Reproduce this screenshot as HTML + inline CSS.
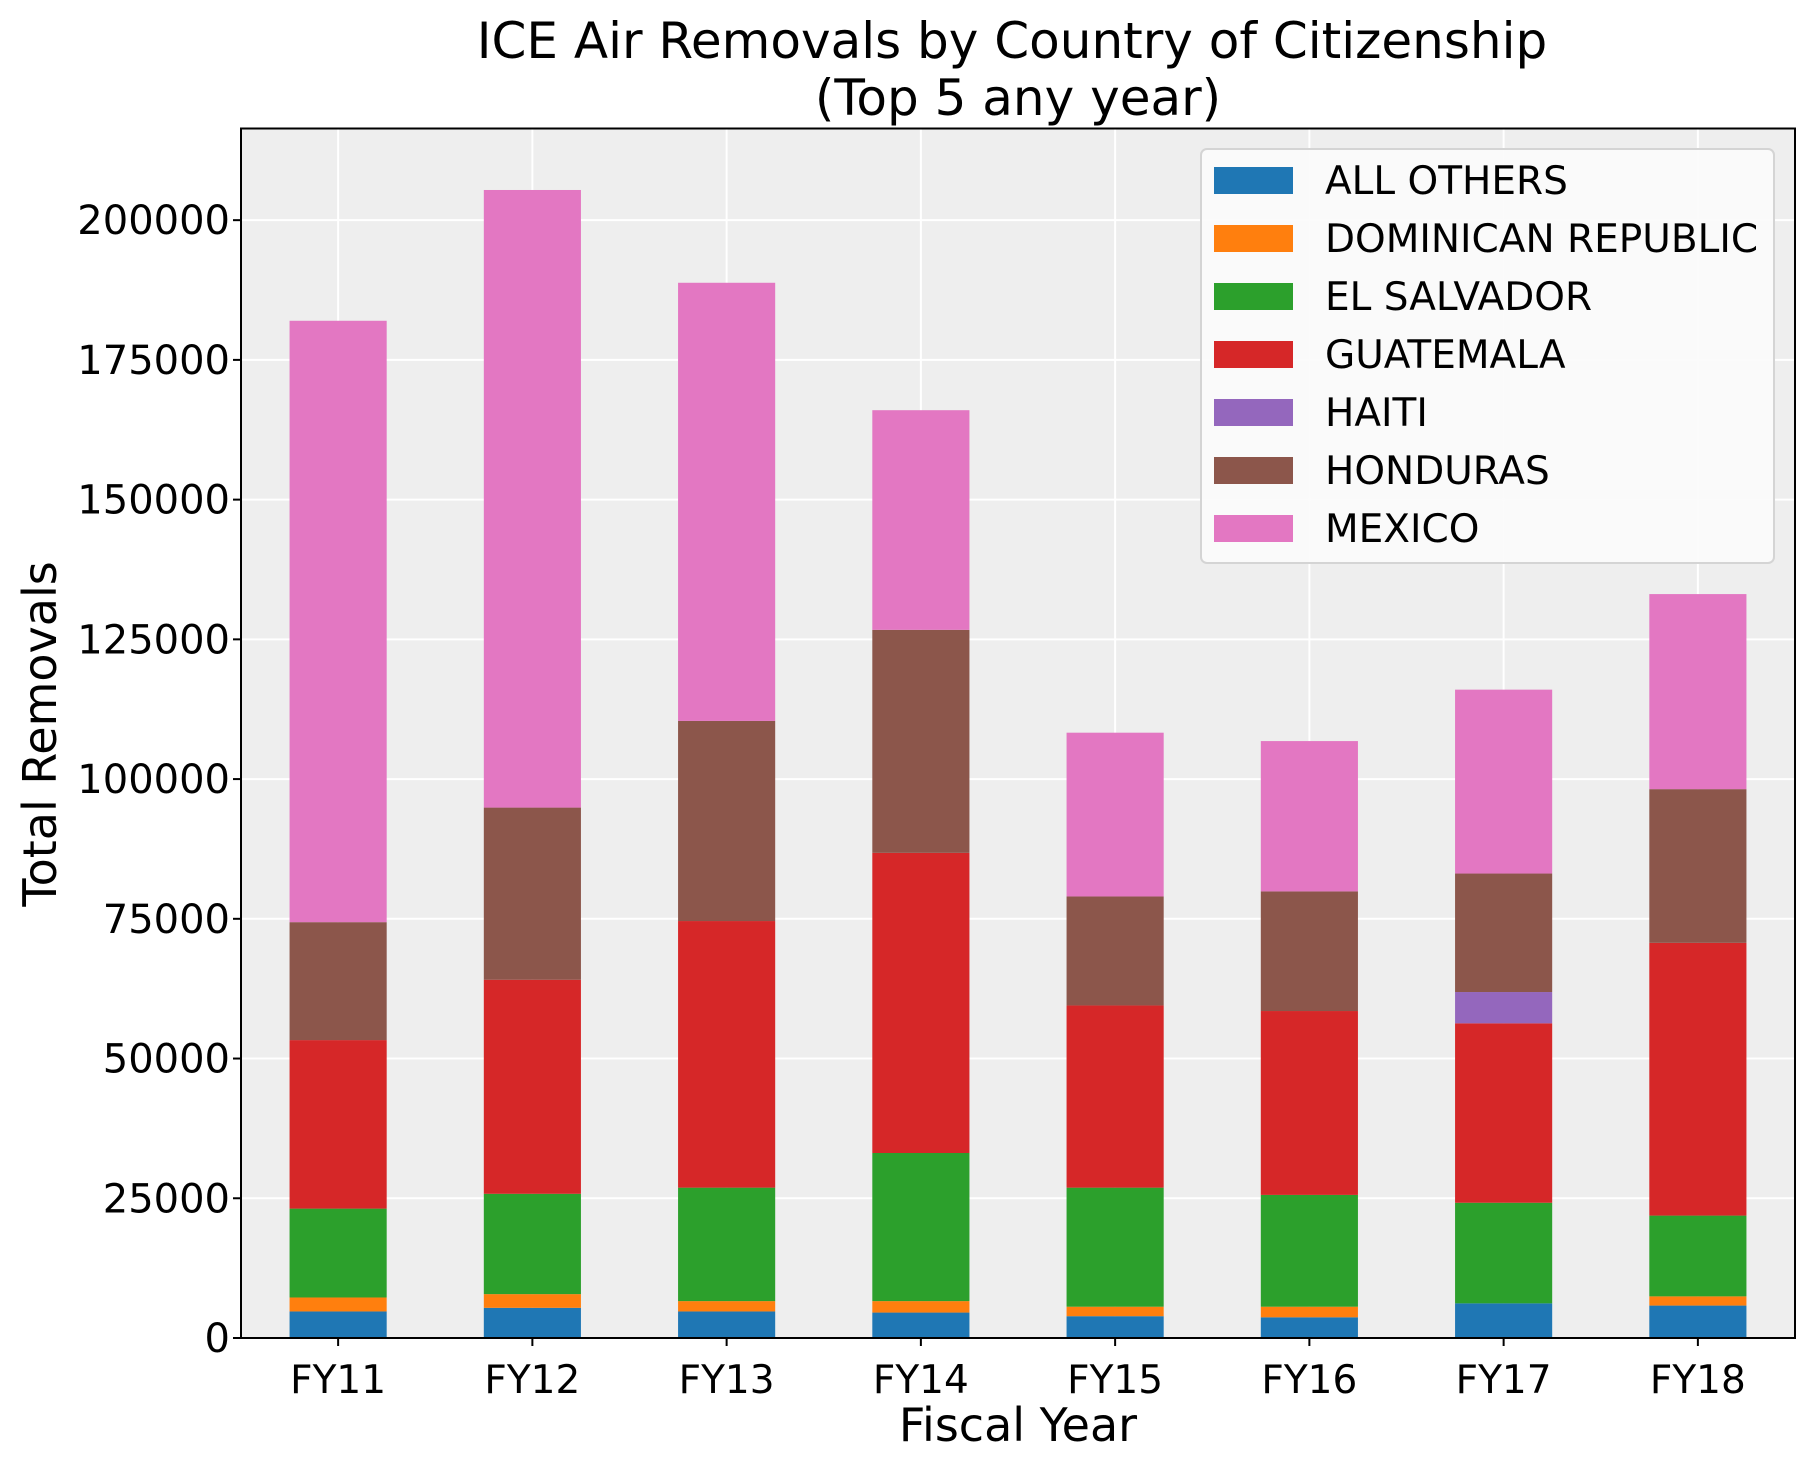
<!DOCTYPE html>
<html><head><meta charset="utf-8"><style>
html,body{margin:0;padding:0;background:#fff}
svg{display:block;font-family:"DejaVu Sans","Liberation Sans",sans-serif}
</style></head><body>
<svg id="chart" width="1815" height="1469" viewBox="0 0 1815 1469" xmlns="http://www.w3.org/2000/svg">
<text x="1012" y="58" font-size="50" text-anchor="middle">ICE Air Removals by Country of Citizenship</text>
<text x="1018" y="115" font-size="50" text-anchor="middle">(Top 5 any year)</text>
<rect x="241" y="128.5" width="1554" height="1209.5" fill="#eeeeee"/>
<g id="grid"></g>
<g id="bars"></g>
<rect x="241" y="128.5" width="1554" height="1209.5" fill="none" stroke="#000" stroke-width="2"/>
<g id="ticks"></g>
<text x="1018" y="1441" font-size="46" text-anchor="middle">Fiscal Year</text>
<text x="0" y="0" font-size="46" text-anchor="middle" transform="translate(56,734) rotate(-90)">Total Removals</text>
<g id="legend"></g>
</svg>
<script>
const categories = ["FY11","FY12","FY13","FY14","FY15","FY16","FY17","FY18"];
const seriesNames = ["ALL OTHERS","DOMINICAN REPUBLIC","EL SALVADOR","GUATEMALA","HAITI","HONDURAS","MEXICO"];
const seriesColors = ["#1f77b4","#ff7f0e","#2ca02c","#d62728","#9467bd","#8c564b","#e377c2"];
const allOthers = [4750,5400,4750,4550,3900,3700,6200,5800];
const dominican = [2500,2450,1850,2050,1700,1900,0,1650];
const elSalvador = [15900,17950,20300,26500,21300,20000,18000,14450];
const guatemala = [30150,38300,47700,53700,32600,32900,32100,48800];
const haiti = [0,0,0,0,0,0,5600,0];
const honduras = [21100,30800,35800,39900,19500,21400,21200,27500];
const mexico = [107600,110500,78400,39300,29300,26900,32900,34900];
const yTicks = [0,25000,50000,75000,100000,125000,150000,175000,200000];
const yTickLabels = ["0","25000","50000","75000","100000","125000","150000","175000","200000"];

const NS="http://www.w3.org/2000/svg";
const L=241,R=1795,T=128.5,B=1338,YMAX=216400;
const series=[allOthers,dominican,elSalvador,guatemala,haiti,honduras,mexico];
const step=(R-L)/categories.length;
function xScale(i){return L+step*(i+0.5);}
function yScale(v){return B-(v/YMAX)*(B-T);}
function mk(tag,attrs,parent){const e=document.createElementNS(NS,tag);for(const k in attrs)e.setAttribute(k,attrs[k]);parent.appendChild(e);return e;}
const grid=document.getElementById('grid'),bars=document.getElementById('bars'),ticks=document.getElementById('ticks'),legend=document.getElementById('legend');
yTicks.forEach((v,i)=>{
  const y=yScale(v);
  const g=mk('line',{x1:L,x2:R,y1:y,y2:y,stroke:'#fff','stroke-width':2},grid);
  
  
  const t=mk('line',{x1:L-8,x2:L,y1:y,y2:y,stroke:'#000','stroke-width':2},ticks);
  
  
  const lb=mk('text',{x:L-11,y:y+14,'font-size':40,'text-anchor':'end'},ticks);
  lb.textContent=yTickLabels[i];
  
  
});
categories.forEach((c,i)=>{
  const x=xScale(i);
  const g=mk('line',{x1:x,x2:x,y1:T,y2:B,stroke:'#fff','stroke-width':2},grid);
  
  
  const t=mk('line',{x1:x,x2:x,y1:B,y2:B+8,stroke:'#000','stroke-width':2},ticks);
  
  
  const lb=mk('text',{x:x,y:B+55,'font-size':39,'text-anchor':'middle'},ticks);
  lb.textContent=c;
  
  
  let cum=0;
  series.forEach((s,k)=>{
    const v=s[i]; if(!v){return;}
    const y0=yScale(cum),y1=yScale(cum+v);cum+=v;
    const r=mk('rect',{x:x-step*0.25,y:y1,width:step*0.5,height:y0-y1,fill:seriesColors[k]},bars);
    
    
  });
});
const lbox=mk('rect',{x:1201,y:149,width:573,height:414,rx:6,fill:'#fbfbfb','fill-opacity':0.9,stroke:'#d4d4d4','stroke-width':2},legend);


seriesNames.forEach((n,k)=>{
  const y=167+k*58;
  const p=mk('rect',{x:1214,y:y,width:79,height:27,fill:seriesColors[k]},legend);
  
  
  const t=mk('text',{x:1325,y:y+27,'font-size':39},legend);
  t.textContent=n;
  
  
});
</script>
</body></html>
